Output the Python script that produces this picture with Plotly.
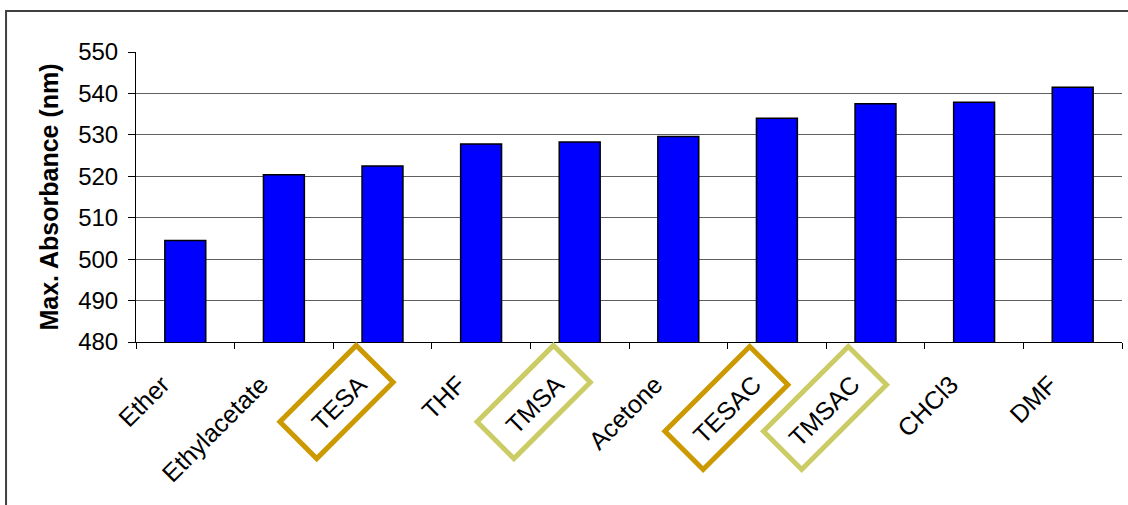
import math
import plotly.graph_objects as go

# Solvent / film categories and the wavelength of maximum absorbance (nm)
categories = ["Ether", "Ethylacetate", "TESA", "THF", "TMSA",
              "Acetone", "TESAC", "TMSAC", "CHCl3", "DMF"]
max_absorbance = [504.5, 520.4, 522.5, 527.8, 528.3,
                  529.6, 534.0, 537.5, 537.9, 541.5]

y_ticks = [480, 490, 500, 510, 520, 530, 540, 550]

# Highlighted film labels and their frame colours
highlighted = {"TESA": "#CC9900", "TESAC": "#CC9900",
               "TMSA": "#CCCC66", "TMSAC": "#CCCC66"}

FONT = "Liberation Sans, Arial, sans-serif"

fig = go.Figure(go.Bar(
    x=categories,
    y=max_absorbance,
    marker=dict(color="#0000FF", line=dict(color="#000000", width=1.5)),
))


def frame_path(cx, cy, short, long):
    """Rectangle tilted 45 degrees, centred at (cx, cy) pixels below the axis."""
    r = 1 / math.sqrt(2)
    pts = []
    for sa, sb in [(-1, -1), (1, -1), (1, 1), (-1, 1)]:
        px = cx + sa * short / 2 * r - sb * long / 2 * r
        py = cy + sa * short / 2 * r + sb * long / 2 * r
        pts.append((px, -py))
    return "M " + " L ".join(f"{x:.1f},{y:.1f}" for x, y in pts) + " Z"


shapes = []
for name, colour in highlighted.items():
    if len(name) == 4:
        path = frame_path(-46, 60, 52, 108)
    else:
        path = frame_path(-50.5, 66, 54, 120)
    shapes.append(dict(
        type="path", xref="x", yref="paper",
        xsizemode="pixel", ysizemode="pixel",
        xanchor=name, yanchor=0,
        path=path, line=dict(color=colour, width=5),
        fillcolor="rgba(0,0,0,0)", layer="above",
    ))

# Outer chart border
shapes.append(dict(
    type="rect", xref="paper", yref="paper",
    x0=-0.1318, x1=1.02, y0=-0.7, y1=1.1414,
    line=dict(color="#404040", width=2), layer="below",
))

fig.update_layout(
    width=1128, height=505,
    margin=dict(l=136, r=6, t=52, b=163),
    paper_bgcolor="white", plot_bgcolor="white",
    bargap=0.585,
    showlegend=False,
    shapes=shapes,
    font=dict(family=FONT, color="black"),
)

fig.update_xaxes(
    type="category",
    tickson="boundaries",
    ticks="outside", ticklen=6, tickcolor="black", tickwidth=1,
    showline=True, linecolor="black", linewidth=1,
    showgrid=False,
    tickangle=-45,
    ticklabelshift=-23, ticklabelstandoff=17,
    tickfont=dict(family=FONT, size=25, color="black"),
)

fig.update_yaxes(
    range=[480, 550],
    tickvals=y_ticks,
    ticks="outside", ticklen=7, tickcolor="black", tickwidth=1,
    ticklabelstandoff=5,
    showline=True, linecolor="black", linewidth=1,
    showgrid=True, gridcolor="#606060", gridwidth=1,
    zeroline=False,
    tickfont=dict(family=FONT, size=24, color="black"),
    title=dict(text="<b>Max. Absorbance (nm)</b>", standoff=12,
               font=dict(family=FONT, size=25, color="black")),
)

fig.write_html("out.html")
